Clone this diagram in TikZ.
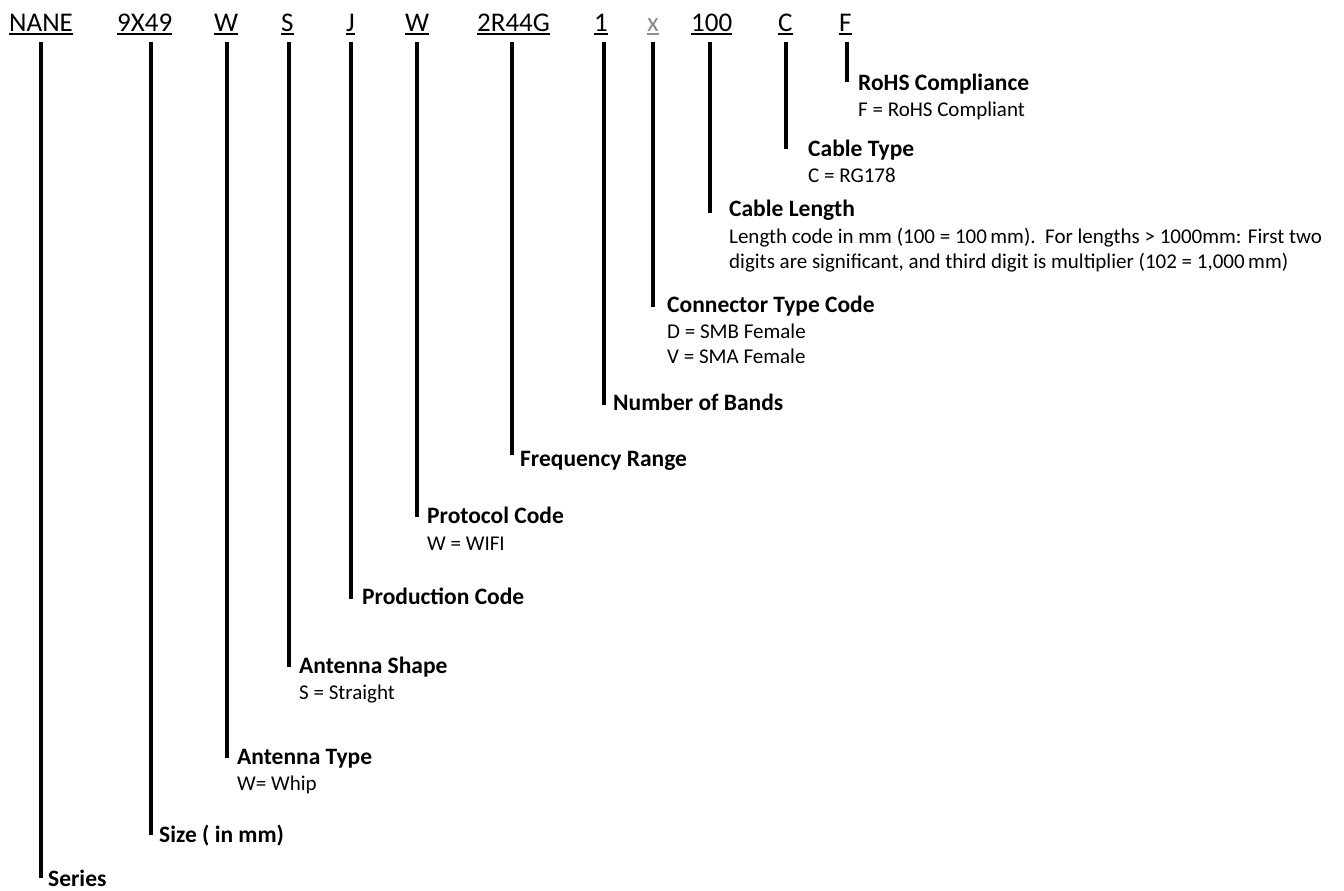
\documentclass[tikz,border=0pt]{standalone}
\usepackage{fontspec}
\setmainfont{Carlito}
\definecolor{xgray}{HTML}{8C8C8C}
\begin{document}
\begin{tikzpicture}[x=1pt,y=-1pt,
  code/.style={anchor=base west, inner sep=0pt, text depth=0pt, font=\fontsize{27}{27}\selectfont},
  head/.style={anchor=base west, inner sep=0pt, font=\fontsize{23.5}{26}\selectfont\bfseries},
  desc/.style={anchor=base west, inner sep=0pt, font=\fontsize{21}{25}\selectfont},
  stem/.style={line width=3.6pt},
  uline/.style={line width=1.6pt}]
\useasboundingbox (0,0) rectangle (1344,891);
% code row
\node[code] (c1) at (9,31.5) {NANE};
\node[code] (c2) at (117,31.5) {9X49};
\node[code] (c3) at (214,31.5) {W};
\node[code] (c4) at (281,31.5) {S};
\node[code] (c5) at (346,31.5) {J};
\node[code] (c6) at (405,31.5) {W};
\node[code] (c7) at (477,31.5) {2R44G};
\node[code] (c8) at (594,31.5) {1};
\node[code, text=xgray] (c9) at (647,31.5) {x};
\node[code] (c10) at (691,31.5) {100};
\node[code] (c11) at (778,31.5) {C};
\node[code] (c12) at (839,31.5) {F};
\foreach \n in {c1,c2,c3,c4,c5,c6,c7,c8,c10,c11,c12}
  \draw[uline] ([yshift=-2.3pt]\n.base west) -- ([yshift=-2.3pt]\n.base east);
\draw[uline, xgray] ([yshift=-2.3pt]c9.base west) -- ([yshift=-2.3pt]c9.base east);
% labels
\node[head] (h12) at (858,90) {RoHS Compliance};
\node[desc] (d12) at (858,116) {F = RoHS Compliant};
\node[head] (h11) at (808,156) {Cable Type};
\node[desc] (d11) at (808,182) {C = RG178};
\node[head] (h10) at (729,216) {Cable Length};
\node[desc] (d10a) at (729,243) {Length code in mm (100 = 100\,mm).\ \ For lengths > 1000mm: First two};
\node[desc] (d10b) at (729,268) {digits are significant, and third digit is multiplier (102 = 1,000\,mm)};
\node[head] (h9) at (667,312) {Connector Type Code};
\node[desc] (d9a) at (667,338) {D = SMB Female};
\node[desc] (d9b) at (667,363) {V = SMA Female};
\node[head] (h8) at (613,410) {Number of Bands};
\node[head] (h7) at (520,466) {Frequency Range};
\node[head] (h6) at (427,523) {Protocol Code};
\node[desc] (d6) at (427,550) {W = WIFI};
\node[head] (h5) at (362,604) {Production Code};
\node[head] (h4) at (299,673) {Antenna Shape};
\node[desc] (d4) at (299,699) {S = Straight};
\node[head] (h3) at (237,764) {Antenna Type};
\node[desc] (d3) at (237,790) {W= Whip};
\node[head] (h2) at (159,842) {Size ( in mm)};
\node[head] (h1) at (48,886) {Series};
% stem ends
\coordinate (e1) at (41,878);
\coordinate (e2) at (151,835);
\coordinate (e3) at (227,758);
\coordinate (e4) at (289,667);
\coordinate (e5) at (351,599);
\coordinate (e6) at (417,517);
\coordinate (e7) at (512,455);
\coordinate (e8) at (604,405);
\coordinate (e9) at (653,307);
\coordinate (e10) at (710,213);
\coordinate (e11) at (786,149);
\coordinate (e12) at (847,82);
\foreach \i in {1,...,12}
  \draw[stem] (c\i.base -| e\i) ++(0,10.5) -- (e\i);
\end{tikzpicture}
\end{document}
